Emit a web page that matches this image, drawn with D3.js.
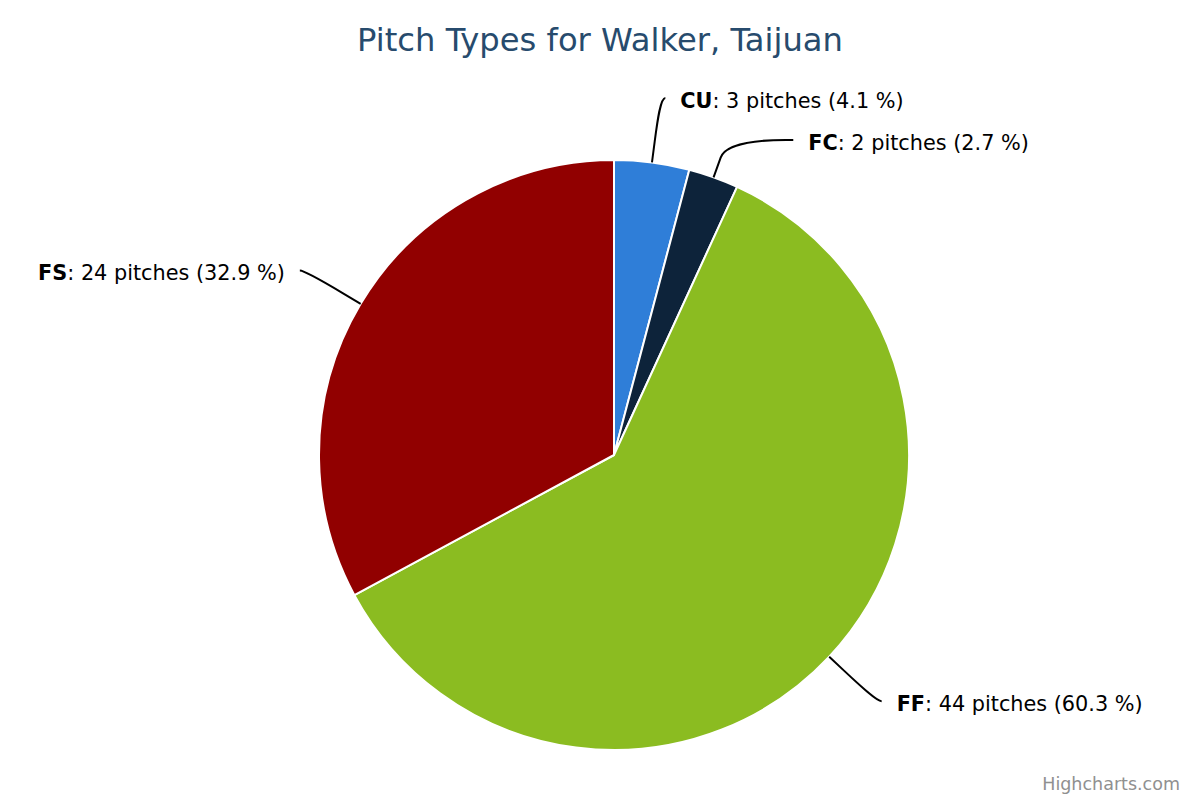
<!DOCTYPE html>
<html>
<head>
<meta charset="utf-8">
<script src="https://cdn.jsdelivr.net/npm/d3@7"></script>
<style>
  html, body { margin: 0; padding: 0; background: #fff; }
  svg { display: block; font-family: "DejaVu Sans", Verdana, sans-serif; }
</style>
</head>
<body>
<svg id="chart" width="1200" height="800"></svg>
<script>
const titleText = "Pitch Types for Walker, Taijuan";
const categories = ["CU", "FC", "FF", "FS"];
const pitchCounts = [3, 2, 44, 24];
const colors = ["#2f7ed8", "#0d233a", "#8bbc21", "#910000"];
const creditText = "Highcharts.com";

const W = 1200, H = 800;
const cx = 614, cy = 455, r = 295;
const labelDistance = 65, connectorOffset = 21, minSpacing = 42;

const svg = d3.select("#chart");
svg.append("rect").attr("width", W).attr("height", H).attr("fill", "#fff");

svg.append("text")
  .attr("x", W / 2).attr("y", 51)
  .attr("text-anchor", "middle")
  .attr("font-size", 32.2)
  .attr("fill", "#274b6d")
  .text(titleText);

const total = d3.sum(pitchCounts);
const data = categories.map((c, i) => ({ name: c, value: pitchCounts[i], color: colors[i] }));
const pie = d3.pie().value(d => d.value).sort(null).startAngle(0).endAngle(2 * Math.PI);
const arcs = pie(data);
const arc = d3.arc().innerRadius(0).outerRadius(r);

const g = svg.append("g").attr("transform", `translate(${cx},${cy})`);
g.selectAll("path.slice").data(arcs).enter().append("path")
  .attr("class", "slice")
  .attr("d", arc)
  .attr("fill", d => d.data.color)
  .attr("stroke", "#fff")
  .attr("stroke-width", 2)
  .attr("stroke-linejoin", "round");

// label layout (Highcharts-like)
const R = r + labelDistance;
const labels = arcs.map(a => {
  const ang = (a.startAngle + a.endAngle) / 2;
  const s = Math.sin(ang), c = -Math.cos(ang);
  return {
    a, ang,
    left: ang > Math.PI,
    base: [s * r, c * r],
    brk: [s * (r + connectorOffset), c * (r + connectorOffset)],
    y: c * R
  };
});
[false, true].forEach(side => {
  const grp = labels.filter(l => l.left === side).sort((p, q) => p.y - q.y);
  for (let i = 1; i < grp.length; i++) {
    grp[i].y = Math.max(grp[i].y, grp[i - 1].y + minSpacing);
  }
});
labels.forEach(l => {
  const dir = l.left ? -1 : 1;
  const yy = Math.max(-R, Math.min(R, l.y));
  l.x = dir * Math.sqrt(R * R - yy * yy);
  l.dir = dir;
});

const lineGen = l => {
  const p = d3.path();
  p.moveTo(l.x + 5 * l.dir, l.y);
  p.bezierCurveTo(l.x, l.y, 2 * l.brk[0] - l.base[0], 2 * l.brk[1] - l.base[1], l.brk[0], l.brk[1]);
  p.lineTo(l.base[0], l.base[1]);
  return p.toString();
};

g.selectAll("path.conn").data(labels).enter().append("path")
  .attr("class", "conn")
  .attr("d", lineGen)
  .attr("fill", "none")
  .attr("stroke", "#000")
  .attr("stroke-width", 2);

const fmt = d3.format(".1f");
const txt = g.selectAll("text.lbl").data(labels).enter().append("text")
  .attr("class", "lbl")
  .attr("x", l => l.x + 20 * l.dir)
  .attr("y", l => l.y + 9.5)
  .attr("text-anchor", l => l.left ? "end" : "start")
  .attr("font-size", 20.8)
  .attr("fill", "#000");
txt.append("tspan").attr("font-weight", "bold").text(l => l.a.data.name);
txt.append("tspan").text(l => `: ${l.a.data.value} pitches (${fmt(l.a.data.value / total * 100)} %)`);

svg.append("text")
  .attr("x", 1180).attr("y", 790)
  .attr("text-anchor", "end")
  .attr("font-size", 17.5)
  .attr("fill", "#909090")
  .text(creditText);
</script>
</body>
</html>
